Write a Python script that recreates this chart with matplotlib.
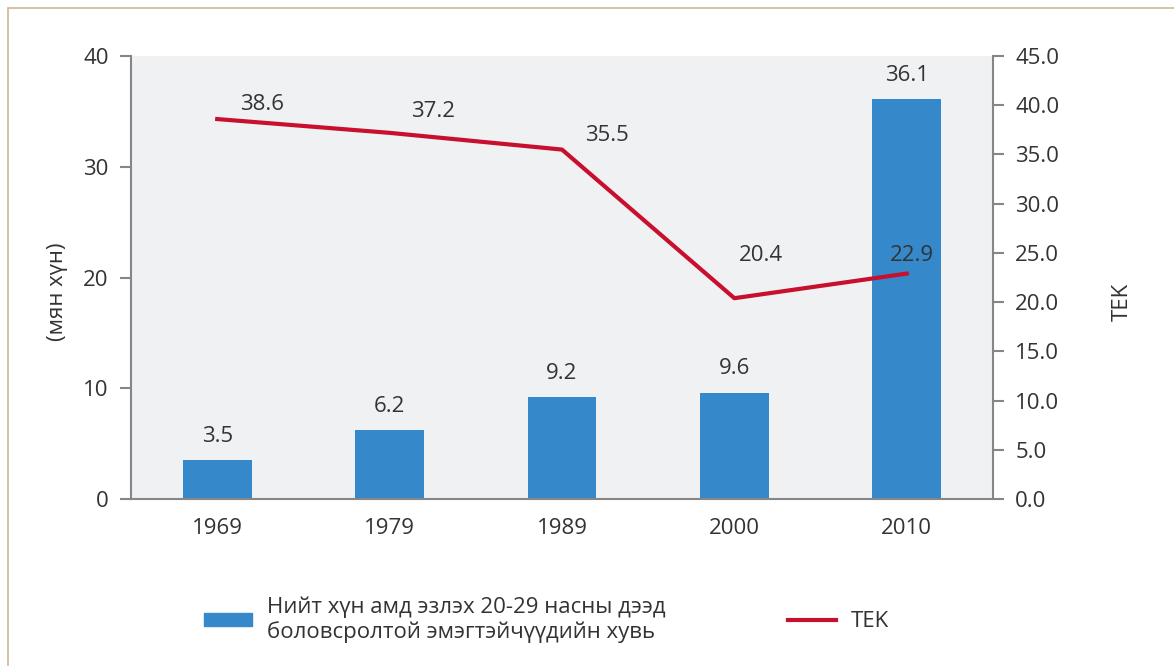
import matplotlib.pyplot as plt
from matplotlib.patches import Rectangle
from matplotlib.lines import Line2D

years = ['1969', '1979', '1989', '2000', '2010']
educated_share = [3.5, 6.2, 9.2, 9.6, 36.1]
tfr = [38.6, 37.2, 35.5, 20.4, 22.9]

bar_label = 'Нийт хүн амд эзлэх 20-29 насны дээд\nболовсролтой эмэгтэйчүүдийн хувь'
line_label = 'TEK'

blue = '#3589cb'
red = '#c8102e'
grey = '#868686'
txt = '#333333'
fs = 16

plt.rcParams['font.family'] = ['Open Sans', 'DejaVu Sans']
plt.rcParams['font.size'] = fs
plt.rcParams['text.color'] = txt

fig = plt.figure(figsize=(11.74, 6.66), dpi=100)
ax = fig.add_axes([0.1116, 0.2508, 0.7342, 0.665])
ax2 = ax.twinx()

# frame line around the panel
fig.patches.append(Rectangle((8 / 1174, -0.5), 2, 1.5 - 8 / 666, transform=fig.transFigure,
                             fill=False, edgecolor='#cdb98f', linewidth=1.2, clip_on=False))

x = range(len(years))
ax.set_facecolor('#f0f1f3')
ax.bar(x, educated_share, width=0.4, color=blue, zorder=2)
for xi, v in zip(x, educated_share):
    ax.annotate(f'{v:.1f}', (xi, v), xytext=(0, 24), textcoords='offset pixels',
                ha='center', va='center', fontsize=fs, color=txt)

ax2.plot(x, tfr, color=red, linewidth=3, zorder=3)
offsets = [(45, 15), (43, 21), (45, 14), (27, 43), (5, 18)]
for xi, v, (dx, dy) in zip(x, tfr, offsets):
    ax2.annotate(f'{v:.1f}', (xi, v), xytext=(dx, dy), textcoords='offset pixels',
                 ha='center', va='center', fontsize=fs, color=txt)

ax.set_xlim(-0.5, 4.5)
ax.set_ylim(0, 40)
ax.set_yticks([0, 10, 20, 30, 40])
ax2.set_ylim(0, 45)
ax2.set_yticks([i * 5 for i in range(10)])
ax2.set_yticklabels([f'{i * 5:.1f}' for i in range(10)])
ax.set_xticks(list(x))
ax.set_xticklabels(years)

for a in (ax, ax2):
    for s in a.spines.values():
        s.set_visible(False)
    a.tick_params(colors=grey, labelcolor=txt, labelsize=fs, width=1.5, length=8, pad=8)
ax.spines['left'].set_visible(True)
ax.spines['bottom'].set_visible(True)
ax2.spines['right'].set_visible(True)
for s in (ax.spines['left'], ax.spines['bottom'], ax2.spines['right']):
    s.set_color(grey)
    s.set_linewidth(1.5)
ax.tick_params(axis='x', length=0, pad=14)

ax.set_ylabel('(мян хүн)', fontsize=fs, color=txt)
ax.yaxis.set_label_coords(-0.073, 0.467)
ax2.set_ylabel('TEK', fontsize=fs, color=txt)
ax2.yaxis.set_label_coords(1.138, 0.445)

handles = [Rectangle((0, 0), 1, 1, color=blue),
           Line2D([0], [0], color=red, linewidth=3)]
fig.legend(handles, [bar_label, line_label], ncol=2, loc='center left',
           bbox_to_anchor=(0.157, 0.07), frameon=False, fontsize=fs,
           handlelength=2.15, handleheight=0.55, handletextpad=0.68,
           columnspacing=5.5)

fig.savefig('out.png', dpi=100)
